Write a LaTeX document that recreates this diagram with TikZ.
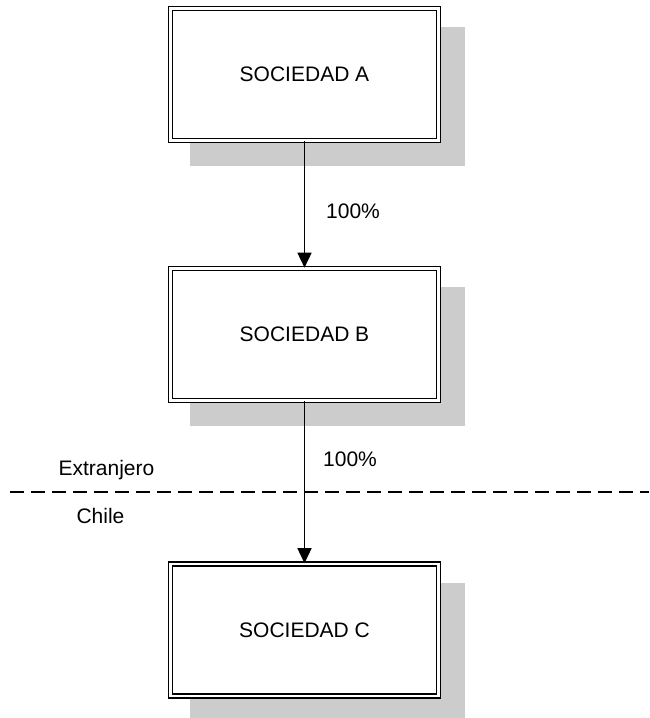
\documentclass[tikz,border=0pt]{standalone}
\usepackage{fontspec}
\setmainfont{Liberation Sans}
\usetikzlibrary{arrows.meta,backgrounds}
\definecolor{shadowgray}{gray}{0.8}

\begin{document}
\begin{tikzpicture}
[
	x=1pt,y=1pt,
	soc/.style={rectangle,draw,double,double distance=2.2pt,line width=1.6pt,fill=white,minimum width=268pt,minimum height=132pt,inner sep=0pt,font=\fontsize{21}{25}\selectfont},
	lbl/.style={inner sep=0pt,font=\fontsize{21}{25}\selectfont},
	flecha/.style={line width=1.5pt,-{Triangle[length=15pt,width=14pt]}}
]
\useasboundingbox (0,0) rectangle (649,-718);

\node[soc] (socA) at (304.5,-74.5) {SOCIEDAD A};
\node[soc] (socB) at (304.5,-334.5) {SOCIEDAD B};
\node[soc] (socC) at (304.5,-630) {SOCIEDAD C};

\node[lbl] (pctAB) at (353,-211) {100\%};
\node[lbl] (pctBC) at (350,-459) {100\%};
\node[lbl] (ext) at (106.5,-470) {Extranjero};
\node[lbl] (chile) at (100.5,-516) {Chile};

\coordinate (lim1) at (10,-492);
\coordinate (lim2) at (649,-492);

\begin{scope}[on background layer]
\foreach \n in {socA,socB,socC}
	\fill[shadowgray] ([shift={(20.5,-19.5)}]\n.north west) rectangle ([shift={(25.5,-24.5)}]\n.south east);
\end{scope}

\draw[line width=1.5pt,dash pattern=on 14pt off 7pt] (lim1) -- (lim2);

\draw[flecha] (socA) -- (socB);
\draw[flecha] (socB) -- (socC);

\end{tikzpicture}
\end{document}
